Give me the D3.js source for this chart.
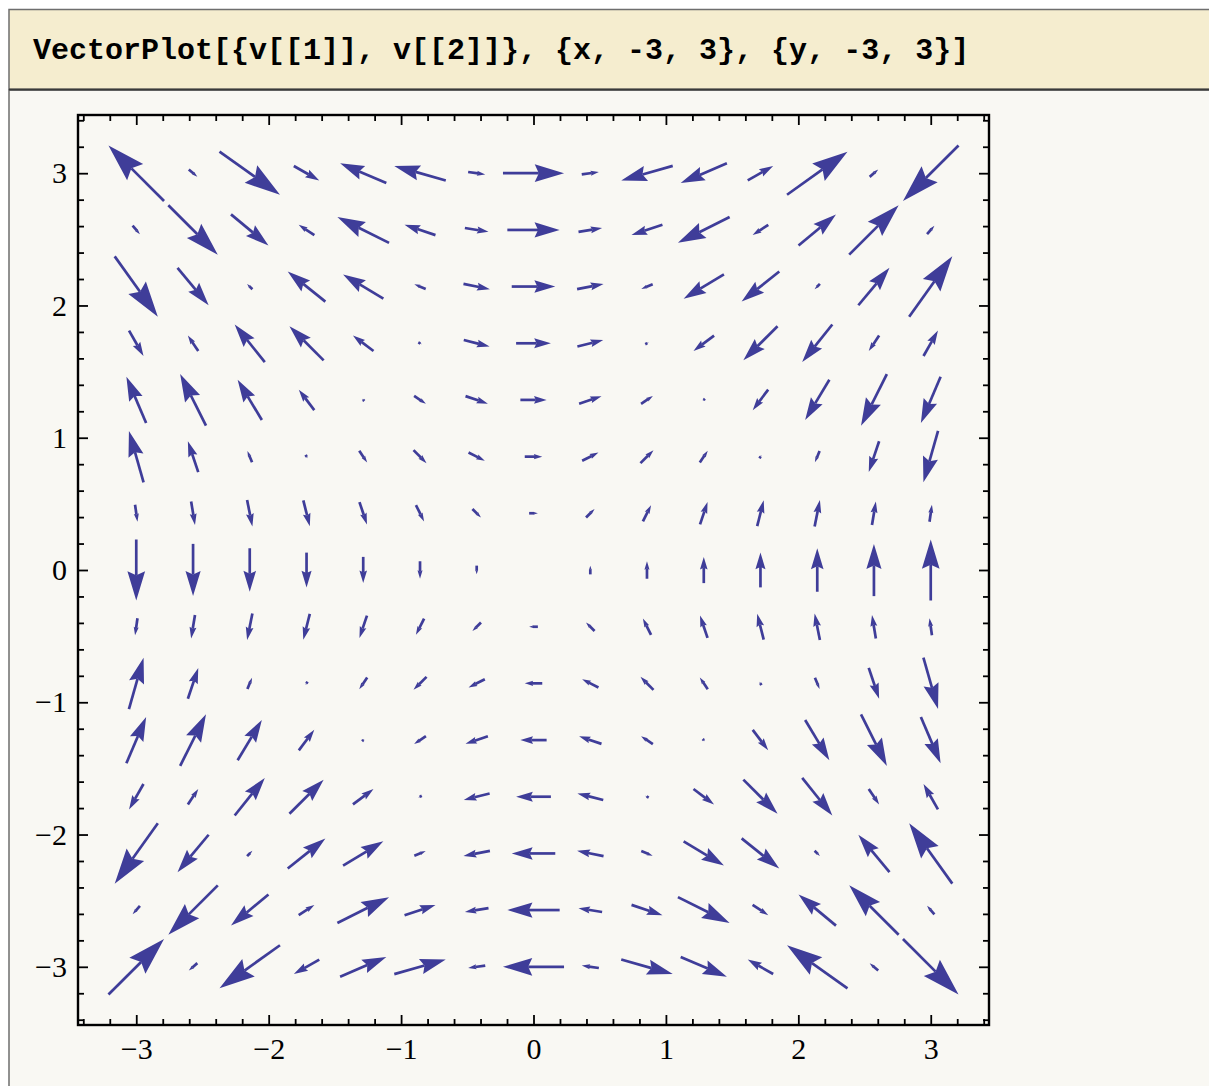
<!DOCTYPE html>
<html><head><meta charset="utf-8">
<script src="https://cdn.jsdelivr.net/npm/d3@7"></script>
<style>html,body{margin:0;padding:0;background:#fff;overflow:hidden}</style>
</head><body>
<svg id="chart" width="1209" height="1086"></svg>
<script>
// ---- data ----
const codeLine = "VectorPlot[{v[[1]], v[[2]]}, {x, -3, 3}, {y, -3, 3}]";
const gridX = [-3, -2.571, -2.143, -1.714, -1.286, -0.857, -0.429, 0, 0.429, 0.857, 1.286, 1.714, 2.143, 2.571, 3];
const gridY = [3, 2.571, 2.143, 1.714, 1.286, 0.857, 0.429, 0, -0.429, -0.857, -1.286, -1.714, -2.143, -2.571, -3];
// horizontal component, rows top (y=3) to bottom (y=-3)
const vecU = [
  [-2.73, 0.42, 2.97, 1.25, -2.27, -2.53, 0.84, 3.00, 0.84, -2.53, -2.27, 1.25, 2.97, 0.42, -2.73],
  [0.36, 2.43, 1.84, -0.77, -2.54, -1.52, 1.16, 2.57, 1.16, -1.52, -2.54, -0.77, 1.84, 2.43, 0.36],
  [2.12, 1.53, -0.26, -1.85, -1.98, -0.56, 1.30, 2.14, 1.30, -0.56, -1.98, -1.85, -0.26, 1.53, 2.12],
  [0.71, -0.51, -1.48, -1.68, -1.01, 0.17, 1.27, 1.71, 1.27, 0.17, -1.01, -1.68, -1.48, -0.51, 0.71],
  [-0.97, -1.27, -1.19, -0.76, -0.11, 0.58, 1.10, 1.29, 1.10, 0.58, -0.11, -0.76, -1.19, -1.27, -0.97],
  [-0.72, -0.51, -0.23, 0.09, 0.39, 0.64, 0.80, 0.86, 0.80, 0.64, 0.39, 0.09, -0.23, -0.51, -0.72],
  [0.12, 0.19, 0.26, 0.32, 0.37, 0.40, 0.42, 0.43, 0.42, 0.40, 0.37, 0.32, 0.26, 0.19, 0.12],
  [0, 0, 0, 0, 0, 0, 0, 0, 0, 0, 0, 0, 0, 0, 0],
  [-0.12, -0.19, -0.26, -0.32, -0.37, -0.40, -0.42, -0.43, -0.42, -0.40, -0.37, -0.32, -0.26, -0.19, -0.12],
  [0.72, 0.51, 0.23, -0.09, -0.39, -0.64, -0.80, -0.86, -0.80, -0.64, -0.39, -0.09, 0.23, 0.51, 0.72],
  [0.97, 1.27, 1.19, 0.76, 0.11, -0.58, -1.10, -1.29, -1.10, -0.58, 0.11, 0.76, 1.19, 1.27, 0.97],
  [-0.71, 0.51, 1.48, 1.68, 1.01, -0.17, -1.27, -1.71, -1.27, -0.17, 1.01, 1.68, 1.48, 0.51, -0.71],
  [-2.12, -1.53, 0.26, 1.85, 1.98, 0.56, -1.30, -2.14, -1.30, 0.56, 1.98, 1.85, 0.26, -1.53, -2.12],
  [-0.36, -2.43, -1.84, 0.77, 2.54, 1.52, -1.16, -2.57, -1.16, 1.52, 2.54, 0.77, -1.84, -2.43, -0.36],
  [2.73, -0.42, -2.97, -1.25, 2.27, 2.53, -0.84, -3.00, -0.84, 2.53, 2.27, -1.25, -2.97, -0.42, 2.73]
];
// vertical component, rows top (y=3) to bottom (y=-3)
const vecV = [
  [2.73, -0.36, -2.12, -0.71, 0.97, 0.72, -0.12, 0, 0.12, -0.72, -0.97, 0.71, 2.12, 0.36, -2.73],
  [-0.42, -2.43, -1.53, 0.51, 1.27, 0.51, -0.19, 0, 0.19, -0.51, -1.27, -0.51, 1.53, 2.43, 0.42],
  [-2.97, -1.84, 0.26, 1.48, 1.19, 0.23, -0.26, 0, 0.26, -0.23, -1.19, -1.48, -0.26, 1.84, 2.97],
  [-1.25, 0.77, 1.85, 1.68, 0.76, -0.09, -0.32, 0, 0.32, 0.09, -0.76, -1.68, -1.85, -0.77, 1.25],
  [2.27, 2.54, 1.98, 1.01, 0.11, -0.39, -0.37, 0, 0.37, 0.39, -0.11, -1.01, -1.98, -2.54, -2.27],
  [2.53, 1.52, 0.56, -0.17, -0.58, -0.64, -0.40, 0, 0.40, 0.64, 0.58, 0.17, -0.56, -1.52, -2.53],
  [-0.84, -1.16, -1.30, -1.27, -1.10, -0.80, -0.42, 0, 0.42, 0.80, 1.10, 1.27, 1.30, 1.16, 0.84],
  [-3.00, -2.57, -2.14, -1.71, -1.29, -0.86, -0.43, 0, 0.43, 0.86, 1.29, 1.71, 2.14, 2.57, 3.00],
  [-0.84, -1.16, -1.30, -1.27, -1.10, -0.80, -0.42, 0, 0.42, 0.80, 1.10, 1.27, 1.30, 1.16, 0.84],
  [2.53, 1.52, 0.56, -0.17, -0.58, -0.64, -0.40, 0, 0.40, 0.64, 0.58, 0.17, -0.56, -1.52, -2.53],
  [2.27, 2.54, 1.98, 1.01, 0.11, -0.39, -0.37, 0, 0.37, 0.39, -0.11, -1.01, -1.98, -2.54, -2.27],
  [-1.25, 0.77, 1.85, 1.68, 0.76, -0.09, -0.32, 0, 0.32, 0.09, -0.76, -1.68, -1.85, -0.77, 1.25],
  [-2.97, -1.84, 0.26, 1.48, 1.19, 0.23, -0.26, 0, 0.26, -0.23, -1.19, -1.48, -0.26, 1.84, 2.97],
  [-0.42, -2.43, -1.53, 0.51, 1.27, 0.51, -0.19, 0, 0.19, -0.51, -1.27, -0.51, 1.53, 2.43, 0.42],
  [2.73, -0.36, -2.12, -0.71, 0.97, 0.72, -0.12, 0, 0.12, -0.72, -0.97, 0.71, 2.12, 0.36, -2.73]
];
const majorTicks = [-3, -2, -1, 0, 1, 2, 3];
const minorTicks = [-3.4,-3.2,-2.8,-2.6,-2.4,-2.2,-1.8,-1.6,-1.4,-1.2,-0.8,-0.6,-0.4,-0.2,0.2,0.4,0.6,0.8,1.2,1.4,1.6,1.8,2.2,2.4,2.6,2.8,3.2,3.4];
const tickLabels = ["\u22123", "\u22122", "\u22121", "0", "1", "2", "3"];

// ---- drawing ----
const svg = d3.select("#chart");
const W = 1209, H = 1086;
svg.append("rect").attr("width", W).attr("height", H).attr("fill", "#ffffff");

// output cell
svg.append("rect").attr("x", 9).attr("y", 90).attr("width", 1300).attr("height", 1100)
  .attr("fill", "#f9f8f3").attr("stroke", "#6e6e6e").attr("stroke-width", 1.5);
// input cell (header)
svg.append("rect").attr("x", 9).attr("y", 9.5).attr("width", 1300).attr("height", 80)
  .attr("fill", "#f5edcf").attr("stroke", "#6e6e6e").attr("stroke-width", 1.5);
svg.append("line").attr("x1", 9).attr("x2", W).attr("y1", 89.5).attr("y2", 89.5)
  .attr("stroke", "#3a3a3a").attr("stroke-width", 2.2);
svg.append("text").attr("x", 33).attr("y", 59)
  .attr("font-family", "'Courier New', 'Liberation Mono', monospace")
  .attr("font-weight", "bold").attr("font-size", 30).attr("fill", "#000")
  .text(codeLine);

const L = 78, R = 989, T = 115, B = 1025;
const xs = d3.scaleLinear().domain([-3.44, 3.44]).range([L, R]);
const ys = d3.scaleLinear().domain([-3.44, 3.44]).range([B, T]);

const fontFam = "'Liberation Serif', 'Times New Roman', serif";

function styleAxis(g) {
  g.select(".domain").remove();
  g.selectAll(".tick line").attr("stroke", "#000").attr("stroke-width", 1.8);
  g.selectAll(".tick text").attr("font-family", fontFam).attr("font-size", 30).attr("fill", "#000");
}
// major ticks with labels
svg.append("g").attr("transform", `translate(0,${B})`)
  .call(d3.axisBottom(xs).tickValues(majorTicks).tickSize(-10).tickPadding(13).tickFormat((d, i) => tickLabels[i]))
  .call(styleAxis);
svg.append("g").attr("transform", `translate(${L},0)`)
  .call(d3.axisLeft(ys).tickValues(majorTicks).tickSize(-10).tickPadding(11).tickFormat((d, i) => tickLabels[i]))
  .call(styleAxis);
svg.append("g").attr("transform", `translate(0,${T})`)
  .call(d3.axisTop(xs).tickValues(majorTicks).tickSize(-10).tickFormat(""))
  .call(styleAxis);
svg.append("g").attr("transform", `translate(${R},0)`)
  .call(d3.axisRight(ys).tickValues(majorTicks).tickSize(-10).tickFormat(""))
  .call(styleAxis);
// minor ticks
[[d3.axisBottom(xs), `translate(0,${B})`], [d3.axisTop(xs), `translate(0,${T})`],
 [d3.axisLeft(ys), `translate(${L},0)`], [d3.axisRight(ys), `translate(${R},0)`]].forEach(([ax, tr]) => {
  svg.append("g").attr("transform", tr)
    .call(ax.tickValues(minorTicks).tickSize(-6).tickFormat(""))
    .call(styleAxis);
});

// frame
svg.append("rect").attr("x", L).attr("y", T).attr("width", R - L).attr("height", B - T)
  .attr("fill", "none").attr("stroke", "#000").attr("stroke-width", 2.4);

// arrows
const kScale = 0.1537; // data units per unit of field magnitude
const arrowColor = "#3f3d99";
const arrows = [];
gridY.forEach((y, j) => gridX.forEach((x, i) => {
  const u = vecU[j][i], v = vecV[j][i];
  if (Math.hypot(u, v) > 0.001) arrows.push({x, y, u, v});
}));
const gA = svg.append("g");
arrows.forEach(a => {
  const x0 = xs(a.x - kScale * a.u / 2), y0 = ys(a.y - kScale * a.v / 2);
  const x1 = xs(a.x + kScale * a.u / 2), y1 = ys(a.y + kScale * a.v / 2);
  const dx = x1 - x0, dy = y1 - y0, len = Math.hypot(dx, dy);
  const ux = dx / len, uy = dy / len, nx = -uy, ny = ux;
  const hl = 0.48 * len, hw = 0.145 * len;
  const bx = x1 - ux * hl, by = y1 - uy * hl;
  const mx = x1 - ux * hl * 0.86, my = y1 - uy * hl * 0.86;
  gA.append("line").attr("x1", x0).attr("y1", y0).attr("x2", mx).attr("y2", my)
    .attr("stroke", arrowColor).attr("stroke-width", 2.7);
  gA.append("path")
    .attr("d", `M${x1},${y1}L${bx + nx * hw},${by + ny * hw}L${mx},${my}L${bx - nx * hw},${by - ny * hw}Z`)
    .attr("fill", arrowColor);
});
</script>
</body></html>
